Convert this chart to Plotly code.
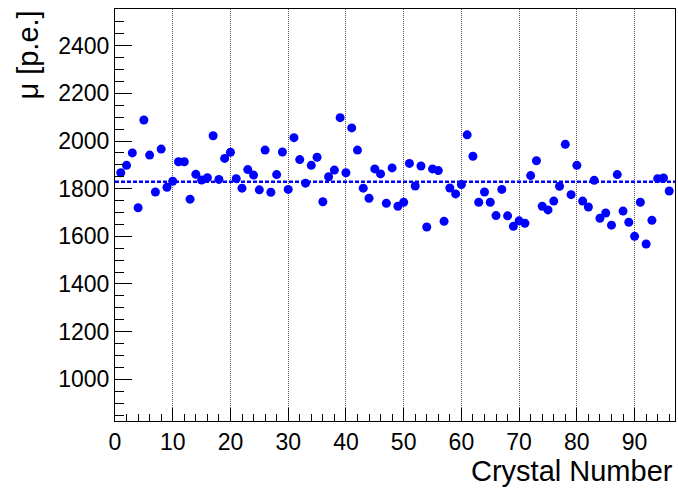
import plotly.graph_objects as go

# Mean light yield (photo-electrons) per crystal
crystal = list(range(1, 97))
mu_pe = [
    1867, 1898, 1950, 1720, 2088, 1941, 1786, 1966, 1806, 1831,
    1913, 1913, 1756, 1860, 1836, 1846, 2022, 1839, 1927, 1953,
    1842, 1802, 1880, 1857, 1795, 1962, 1785, 1859, 1954, 1797,
    2014, 1922, 1823, 1898, 1932, 1745, 1850, 1878, 2098, 1867,
    2055, 1962, 1802, 1760, 1883, 1862, 1739, 1887, 1726, 1743,
    1906, 1811, 1895, 1639, 1883, 1876, 1663, 1803, 1778, 1817,
    2026, 1936, 1743, 1786, 1743, 1687, 1797, 1686, 1642, 1665,
    1655, 1855, 1917, 1726, 1711, 1748, 1810, 1986, 1775, 1898,
    1748, 1723, 1835, 1676, 1698, 1647, 1859, 1706, 1659, 1600,
    1743, 1568, 1667, 1842, 1845, 1790,
]
mean_level = 1829

x_range = [0, 97]
y_range = [825, 2554]
x_tick_vals = [0, 10, 20, 30, 40, 50, 60, 70, 80, 90]
y_tick_vals = [1000, 1200, 1400, 1600, 1800, 2000, 2200, 2400]

FONT = "Liberation Sans, Arial, Helvetica, sans-serif"

fig = go.Figure()

# Average level across all crystals
fig.add_trace(go.Scatter(
    x=x_range, y=[mean_level, mean_level], mode="lines",
    line=dict(color="#0000ff", width=2.5, dash="4px,2px"),
    hoverinfo="skip", showlegend=False,
))

fig.add_trace(go.Scatter(
    x=crystal, y=mu_pe, mode="markers",
    marker=dict(color="#0000ff", size=9, line=dict(width=0)),
    showlegend=False,
))

fig.update_layout(
    width=678, height=495,
    margin=dict(l=115, r=3, t=9, b=74),
    paper_bgcolor="white", plot_bgcolor="white",
    font=dict(family=FONT, color="black"),
    showlegend=False,
)

fig.update_xaxes(
    range=x_range, tickvals=x_tick_vals,
    ticks="inside", ticklen=13, tickwidth=1, tickcolor="black",
    tickfont=dict(size=23, family=FONT),
    showline=True, linecolor="black", linewidth=1, mirror=True,
    showgrid=True, gridcolor="#555555", griddash="1px,1px", gridwidth=1,
    zeroline=False,
    minor=dict(dtick=2, ticks="inside", ticklen=7, tickcolor="black", showgrid=False),
)

fig.update_yaxes(
    range=y_range, tickvals=y_tick_vals,
    ticks="inside", ticklen=17, tickwidth=1, tickcolor="black",
    tickfont=dict(size=23, family=FONT),
    showline=True, linecolor="black", linewidth=1, mirror=True,
    showgrid=False, zeroline=False,
    minor=dict(dtick=50, tick0=0, ticks="inside", ticklen=9, tickcolor="black", showgrid=False),
)

# Axis titles, right/top-aligned at the axis ends
fig.add_annotation(
    text="Crystal Number", xref="paper", yref="paper",
    x=1.0, y=-0.078, xanchor="right", yanchor="top",
    showarrow=False, font=dict(size=29, family=FONT),
)
fig.add_annotation(
    text="μ [p.e.]", xref="paper", yref="paper",
    x=-0.157, y=1.0, xanchor="center", yanchor="top", textangle=-90,
    showarrow=False, font=dict(size=29, family=FONT),
)

fig.write_html("out.html")
